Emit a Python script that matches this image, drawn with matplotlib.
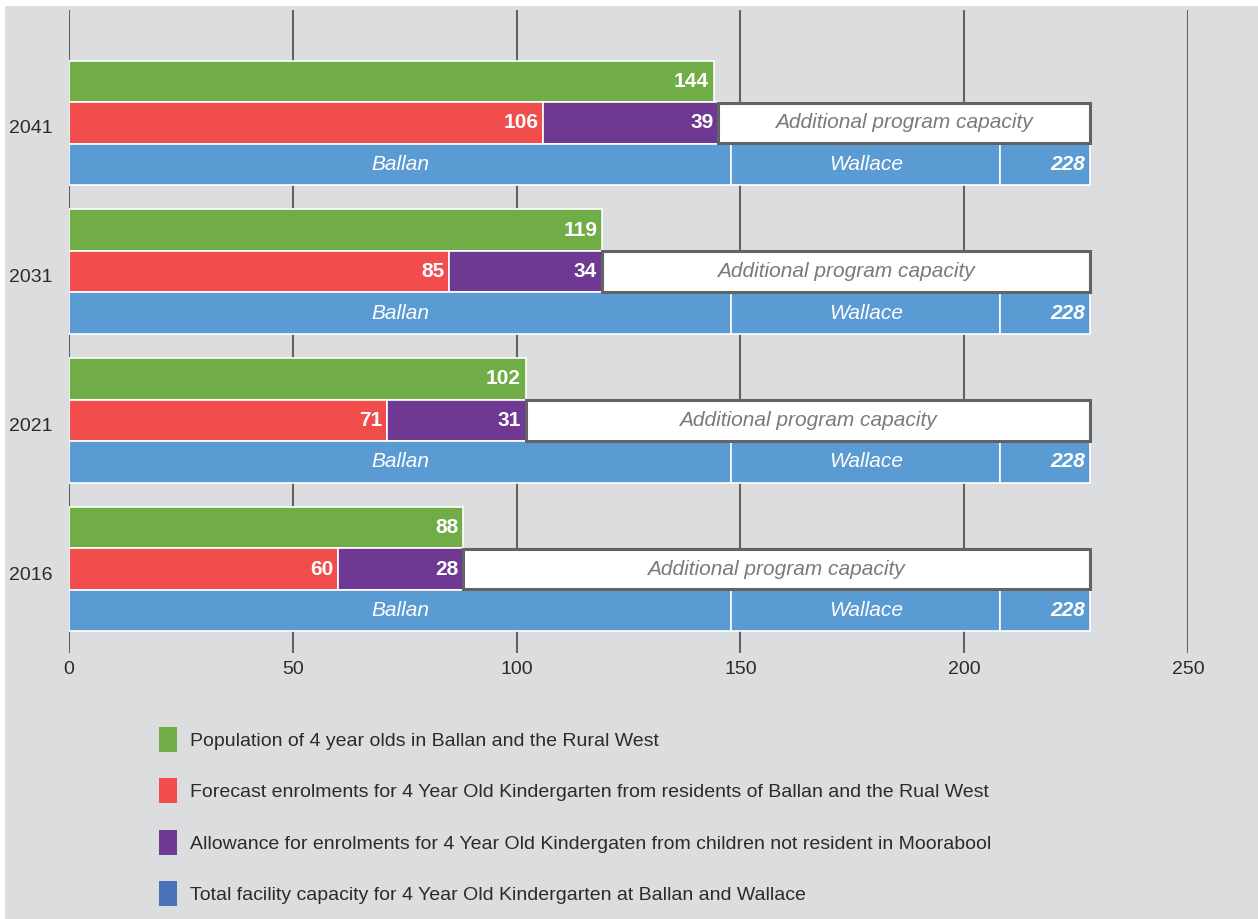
import numpy as np
import matplotlib
matplotlib.use("Agg")
import matplotlib.pyplot as plt
from matplotlib.patches import Rectangle, Patch
from matplotlib.transforms import ScaledTranslation

plt.rcParams['font.family'] = ['Liberation Sans', 'DejaVu Sans']

# Kindergarten demand vs capacity, Ballan and the Rural West
years = ['2016', '2021', '2031', '2041']
population = [88, 102, 119, 144]
enrolments = [60, 71, 85, 106]
allowance = [28, 31, 34, 39]
capacity_names = ['Ballan', 'Wallace', '228']
capacity_parts = [148, 60, 20]
total_capacity = 228

legend_labels = [
    'Population of 4 year olds in Ballan and the Rural West',
    'Forecast enrolments for 4 Year Old Kindergarten from residents of Ballan and the Rual West',
    'Allowance for enrolments for 4 Year Old Kindergaten from children not resident in Moorabool',
    'Total facility capacity for 4 Year Old Kindergarten at Ballan and Wallace',
]

GREEN = '#70ad47'
RED = '#f04d4c'
PURPLE = '#6e3893'
BLUE = '#5b9bd3'
BLUE_KEY = '#4a72b8'
BG = '#dcdddf'
GRID = '#636363'
TXT = '#2b2b2b'

W, H = 1258, 919
fig = plt.figure(figsize=(W / 100, H / 100), dpi=100, facecolor='white')
fig.patches.append(Rectangle((5 / W, 0), 1, 1 - 6 / H, transform=fig.transFigure,
                             facecolor=BG, edgecolor='none', zorder=-10))

ax = fig.add_axes([69 / W, 1 - 653 / H, 1119 / W, 643 / H])
ax.set_facecolor('none')

h = 0.28
y = np.arange(len(years))
edge = dict(edgecolor='white', linewidth=1.2)
fs = 14    # axis and legend text
bfs = 15   # text inside the bars

# top bar: population
ax.barh(y + h, population, height=h, color=GREEN, zorder=3, **edge)
# middle bar: enrolments + allowance, then spare capacity box
ax.barh(y, enrolments, height=h, color=RED, zorder=3, **edge)
ax.barh(y, allowance, left=enrolments, height=h, color=PURPLE, zorder=3, **edge)
used = np.array(enrolments) + np.array(allowance)
ax.barh(y, total_capacity - used, left=used, height=h * 0.97, color='white',
        edgecolor=GRID, linewidth=2.2, zorder=4)
# bottom bar: facility capacity
lefts = np.concatenate([[0], np.cumsum(capacity_parts)[:-1]])
for left, part in zip(lefts, capacity_parts):
    ax.barh(y - h, part, left=left, height=h, color=BLUE, zorder=3, **edge)

pad = 1.0
for i in range(len(years)):
    ax.text(population[i] - pad, y[i] + h, str(population[i]), ha='right', va='center',
            color='white', fontsize=bfs, fontweight='bold', zorder=5)
    ax.text(enrolments[i] - pad, y[i], str(enrolments[i]), ha='right', va='center',
            color='white', fontsize=bfs, fontweight='bold', zorder=5)
    ax.text(used[i] - pad, y[i], str(allowance[i]), ha='right', va='center',
            color='white', fontsize=bfs, fontweight='bold', zorder=5)
    ax.text((used[i] + total_capacity) / 2, y[i], 'Additional program capacity',
            ha='center', va='center', color='#7a7a7a', fontsize=bfs, style='italic', zorder=5)
    ax.text(lefts[0] + capacity_parts[0] / 2, y[i] - h, capacity_names[0], ha='center',
            va='center', color='white', fontsize=bfs, style='italic', zorder=5)
    ax.text(lefts[1] + capacity_parts[1] / 2, y[i] - h, capacity_names[1], ha='center',
            va='center', color='white', fontsize=bfs, style='italic', zorder=5)
    ax.text(total_capacity - pad, y[i] - h, capacity_names[2], ha='right', va='center',
            color='white', fontsize=bfs, style='italic', fontweight='bold', zorder=5)

ax.set_xlim(0, 250)
ax.set_ylim(-0.565, 3.76)
ax.set_xticks(np.arange(0, 251, 50))
ax.set_yticks(y)
ax.set_yticklabels(years)
ax.tick_params(length=0, labelsize=fs, labelcolor=TXT)
ax.tick_params(axis='x', pad=6)
ax.tick_params(axis='y', pad=12)
# year labels sit a little below the middle bar's centre
shift = ScaledTranslation(0, -4 / 100, fig.dpi_scale_trans)
for lab in ax.get_yticklabels():
    lab.set_transform(lab.get_transform() + shift)
ax.grid(axis='x', color=GRID, linewidth=1.5, zorder=1)
ax.set_axisbelow(True)
for s in ax.spines.values():
    s.set_visible(False)

handles = [Patch(facecolor=c, edgecolor='none') for c in [GREEN, RED, PURPLE, BLUE_KEY]]
fig.legend(handles, legend_labels, loc='upper left', bbox_to_anchor=(159 / W, 1 - 727 / H),
           frameon=False, fontsize=fs, labelcolor=TXT, handlelength=0.9, handleheight=1.6,
           handletextpad=0.7, labelspacing=1.36, borderpad=0, borderaxespad=0)

fig.savefig('out.png', dpi=100, facecolor='white')
